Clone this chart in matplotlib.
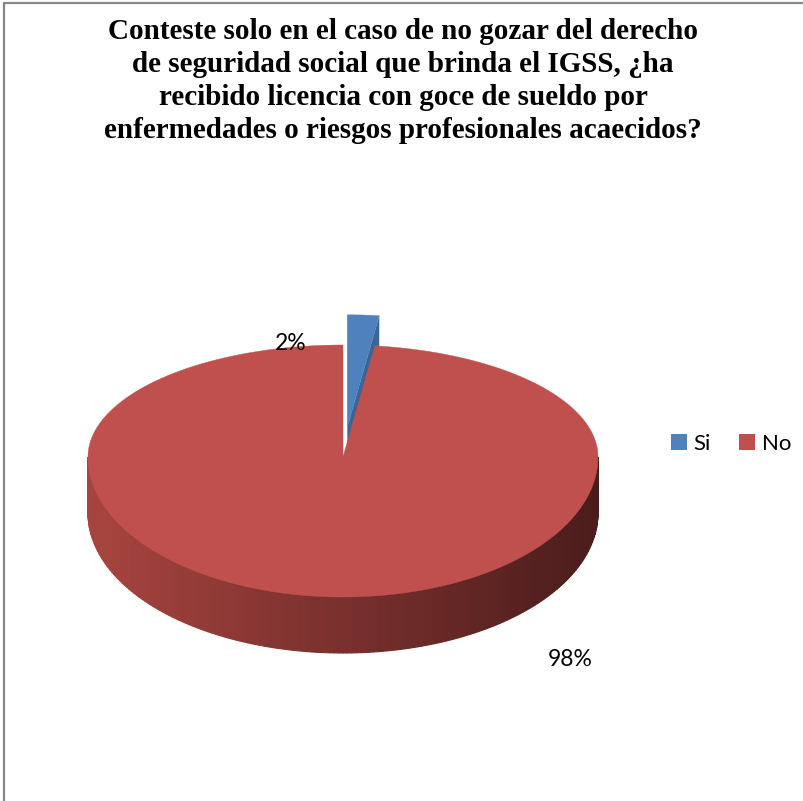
import numpy as np
import matplotlib
matplotlib.use("Agg")
import matplotlib.pyplot as plt
from matplotlib.patches import Polygon, Patch
from matplotlib.colors import to_rgb

# data
labels = ['Si', 'No']
values = [2, 98]
pct_labels = ['2%', '98%']
title = ("Conteste solo en el caso de no gozar del derecho\n"
         "de seguridad social que brinda el IGSS, ¿ha\n"
         "recibido licencia con goce de sueldo por\n"
         "enfermedades o riesgos profesionales acaecidos?")

top_colors = ['#4F81BD', '#C0504D']
cut_colors = ['#3C6597', '#8E3A38']

# pie geometry in pixels (y goes down)
cx, cy = 343, 457
a = 255
b_back, b_front = 112, 140
depth = 56
explode = [0.27, 0.0]


def proj(t, ox=0.0, oy=0.0, dz=0.0):
    t = np.asarray(t)
    s = np.sin(t)
    b = np.where(s > 0, b_back, b_front)
    return cx + ox + a * np.cos(t), cy + oy - b * s + dz


fig = plt.figure(figsize=(8.04, 8.01), dpi=100)
ax = fig.add_axes([0, 0, 1, 1])
ax.set_xlim(0, 804)
ax.set_ylim(801, 0)
ax.axis('off')

fracs = np.array(values, dtype=float) / sum(values)
cum = np.concatenate([[0], np.cumsum(fracs)])
th1 = np.deg2rad(90 - 360 * cum[:-1])
th2 = np.deg2rad(90 - 360 * cum[1:])

# side wall of the big slice (front half), shaded left to right
light = np.array(to_rgb('#A8443F'))
dark = np.array(to_rgb('#4A1C1B'))
ts = np.linspace(np.pi, 2 * np.pi, 181)
for k in range(len(ts) - 1):
    t0, t1 = ts[k], ts[k + 1]
    x0, y0 = proj(t0)
    x1, y1 = proj(t1)
    f = ((x0 + x1) / 2 - (cx - a)) / (2 * a)
    col = light * (1 - f) + dark * f
    ax.add_patch(Polygon([(x0, y0), (x1, y1), (x1, y1 + depth), (x0, y0 + depth)],
                         closed=True, facecolor=col, edgecolor=col, lw=0.8))

# slices, back one (exploded) first
for i in range(len(values)):
    m = (th1[i] + th2[i]) / 2
    ox = a * explode[i] * np.cos(m)
    oy = -b_back * explode[i] * np.sin(m)
    ang = np.linspace(th1[i], th2[i], max(int(abs(th1[i] - th2[i]) * 60), 4))
    xs, ys = proj(ang, ox, oy)
    if explode[i] > 0:
        # visible cut face at the end angle
        ex, ey = proj(th2[i], ox, oy)
        px, py = cx + ox, cy + oy
        ax.add_patch(Polygon([(px, py), (ex, ey), (ex, ey + depth), (px, py + depth)],
                             closed=True, facecolor=cut_colors[i], edgecolor='none'))
    pts = [(cx + ox, cy + oy)] + list(zip(xs, ys))
    ax.add_patch(Polygon(pts, closed=True, facecolor=top_colors[i],
                         edgecolor=top_colors[i], lw=0.3))

# percent labels
ax.text(291, 343, pct_labels[0], fontsize=16.5, family='Lato', ha='center', va='center')
ax.text(570, 660, pct_labels[1], fontsize=16.5, family='Lato', ha='center', va='center')

ax.text(403, 81, title, fontsize=21, family='Liberation Serif', weight='bold',
        ha='center', va='center', linespacing=1.3)

handles = [Patch(facecolor=c, edgecolor='none') for c in top_colors]
ax.legend(handles, labels, loc='center left', bbox_to_anchor=(651, 444),
          bbox_transform=ax.transData, ncol=2, frameon=False,
          prop={'family': 'Lato', 'size': 16}, handlelength=0.7, handleheight=0.7,
          handletextpad=0.3, columnspacing=1.3)

# chart frame
ax.plot([4, 4, 803], [801, 3, 3], color='#888888', lw=1.6, solid_capstyle='butt')

fig.savefig('out.png', dpi=100)
